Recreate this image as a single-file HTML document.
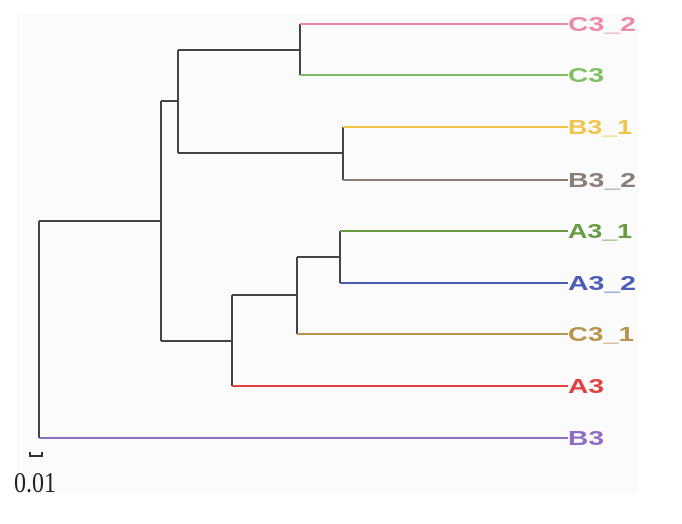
<!DOCTYPE html>
<html><head><meta charset="utf-8"><style>
html,body{margin:0;padding:0;background:#fff;width:682px;height:524px;overflow:hidden}
</style></head><body>
<svg width="682" height="524" xmlns="http://www.w3.org/2000/svg">
<rect x="17" y="14" width="621" height="479" fill="#fbfbfb"/>
<g stroke="#444" stroke-width="2" fill="none">
<path d="M39 221V438M39 221H161M161 101V341M161 101H178M178 50V153M178 50H300M300 24V75M178 153H343M343 127V180M161 341H232M232 295V386M232 295H297M297 257V334M297 257H340M340 231V283"/>
</g>
<g stroke-width="2">
<line x1="300" y1="24" x2="568" y2="24" stroke="#ec8aa6"/>
<line x1="300" y1="75" x2="568" y2="75" stroke="#7cc060"/>
<line x1="343" y1="127" x2="568" y2="127" stroke="#f0c34a"/>
<line x1="343" y1="180" x2="568" y2="180" stroke="#8a7d76"/>
<line x1="340" y1="231" x2="568" y2="231" stroke="#6b9a45"/>
<line x1="340" y1="283" x2="568" y2="283" stroke="#4a5cb4"/>
<line x1="297" y1="334" x2="568" y2="334" stroke="#b8924e"/>
<line x1="232" y1="386" x2="568" y2="386" stroke="#e2403e"/>
<line x1="39" y1="438" x2="568" y2="438" stroke="#8e6cc0"/>
</g>
<g font-family="Liberation Sans, sans-serif" font-size="20" font-weight="bold" lengthAdjust="spacingAndGlyphs">
<text x="568" y="31" fill="#ec8aa6" textLength="68" lengthAdjust="spacingAndGlyphs">C3_2</text>
<text x="568" y="82" fill="#7cc060" textLength="36" lengthAdjust="spacingAndGlyphs">C3</text>
<text x="568" y="134" fill="#f0c34a" textLength="64" lengthAdjust="spacingAndGlyphs">B3_1</text>
<text x="568" y="187" fill="#8a7d76" textLength="68" lengthAdjust="spacingAndGlyphs">B3_2</text>
<text x="568" y="238" fill="#6b9a45" textLength="64" lengthAdjust="spacingAndGlyphs">A3_1</text>
<text x="568" y="290" fill="#4a5cb4" textLength="68" lengthAdjust="spacingAndGlyphs">A3_2</text>
<text x="568" y="341" fill="#b8924e" textLength="66" lengthAdjust="spacingAndGlyphs">C3_1</text>
<text x="568" y="393" fill="#e2403e" textLength="36" lengthAdjust="spacingAndGlyphs">A3</text>
<text x="568" y="445" fill="#8e6cc0" textLength="36" lengthAdjust="spacingAndGlyphs">B3</text>
</g>
<path d="M30 452V456H42V452" stroke="#333" stroke-width="2" fill="none"/>
<text x="14" y="492" font-family="Liberation Serif, serif" font-size="29" fill="#222" textLength="42" lengthAdjust="spacingAndGlyphs">0.01</text>
</svg>
</body></html>
